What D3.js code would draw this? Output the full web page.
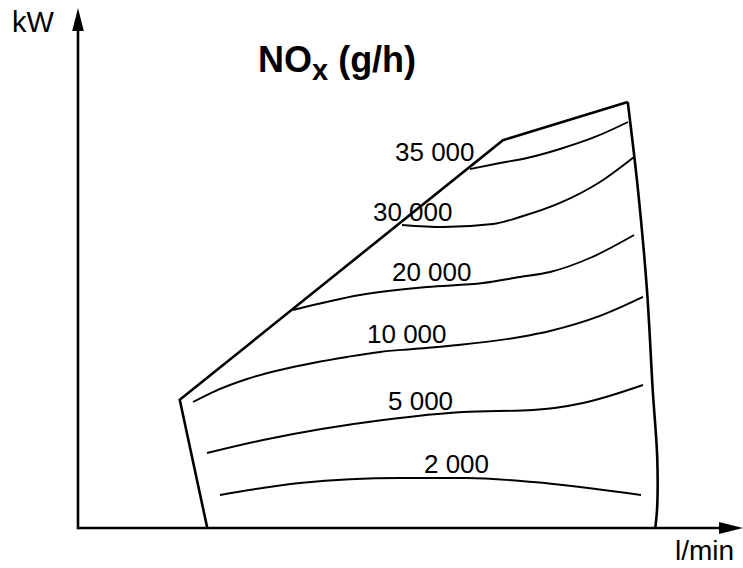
<!DOCTYPE html>
<html>
<head>
<meta charset="utf-8">
<script src="https://cdn.jsdelivr.net/npm/d3@7"></script>
<style>
  html, body { margin: 0; padding: 0; background: #fff; }
  svg { display: block; }
  text { font-family: "Liberation Sans", Arial, Helvetica, sans-serif; fill: #000; }
</style>
</head>
<body>
<svg id="chart" width="743" height="568"></svg>
<script>
// Engine map: NOx emission (g/h) over flow (l/min) and power (kW), relative units 0–100.

// Operating envelope: left/top edges (straight) and the curved full-load edge on the right
const envelopeFlow  = [20.2, 15.9, 66.4, 85.9];
const envelopePower = [0, 26.7, 80.8, 88.75];
const rightEdgeFlow  = [85.9, 87.5, 88.9, 89.8, 90.5, 90.5, 90.2];
const rightEdgePower = [88.75, 70.4, 49.6, 28.75, 14.8, 4.4, 0];

// Iso-NOx lines
const levels = ["35 000", "30 000", "20 000", "10 000", "5 000", "2 000"];
const isoFlow = [
  [61.25, 65.94, 70.16, 75.31, 80.78, 85.94],
  [50.63, 57.03, 64.84, 69.06, 75.31, 81.56, 86.88],
  [33.59, 44.06, 54.53, 63.28, 69.06, 73.75, 80.0, 86.88],
  [17.97, 21.09, 26.41, 31.56, 36.72, 42.03, 47.19, 52.34, 59.38, 69.06, 73.75, 81.56, 88.28],
  [20.16, 28.91, 47.66, 60.16, 71.09, 78.91, 88.28],
  [22.19, 34.69, 50.31, 60.78, 71.09, 87.97]
];
const isoPower = [
  [74.79, 76.04, 77.08, 78.96, 81.46, 84.58],
  [63.13, 62.71, 63.33, 64.79, 67.71, 72.08, 77.29],
  [45.42, 48.54, 50.21, 51.04, 52.29, 53.33, 56.25, 61.04],
  [26.25, 28.33, 31.04, 32.92, 34.38, 35.63, 36.67, 37.29, 38.13, 39.79, 41.04, 44.17, 48.13],
  [15.63, 18.33, 22.5, 24.17, 24.58, 26.04, 29.79],
  [6.88, 9.38, 10.42, 10.42, 9.58, 6.88]
];
// Label anchors (start of text, baseline)
const labelFlow  = [49.53, 46.09, 49.06, 45.16, 48.44, 54.06];
const labelPower = [76.46, 63.96, 51.46, 38.54, 24.58, 11.46];

const axisTitleY = "kW";
const axisTitleX = "l/min";

const svg = d3.select("#chart");

const x = d3.scaleLinear().domain([0, 100]).range([78, 718]);
const y = d3.scaleLinear().domain([0, 100]).range([528, 48]);

const zip = (xs, ys) => xs.map((v, i) => [v, ys[i]]);

// Axes with arrowheads
const axisG = svg.append("g");
axisG.append("line")
  .attr("x1", x(0)).attr("y1", y(0))
  .attr("x2", x(100) + 2).attr("y2", y(0))
  .attr("stroke", "#000").attr("stroke-width", 2.6);
axisG.append("line")
  .attr("x1", x(0)).attr("y1", y(0) + 1.3)
  .attr("x2", x(0)).attr("y2", 30)
  .attr("stroke", "#000").attr("stroke-width", 2.6);
axisG.append("path")
  .attr("d", `M${x(0)},8 L${x(0) - 5.8},31 L${x(0) + 5.8},31 Z`)
  .attr("fill", "#000");
axisG.append("path")
  .attr("d", `M743,${y(0)} L719,${y(0) - 6} L719,${y(0) + 6} Z`)
  .attr("fill", "#000");

svg.append("text")
  .attr("x", 12).attr("y", 32)
  .attr("font-size", 29)
  .text(axisTitleY);
svg.append("text")
  .attr("x", 675).attr("y", 560)
  .attr("font-size", 28)
  .text(axisTitleX);

// Title
const title = svg.append("text")
  .attr("x", 258).attr("y", 72)
  .attr("font-size", 36)
  .attr("font-weight", "bold");
title.append("tspan").text("NO");
title.append("tspan").attr("font-size", 29).attr("dy", 8).text("x");
title.append("tspan").attr("dy", -8).text(" (g/h)");

// Envelope
const straight = d3.line().x(d => x(d[0])).y(d => y(d[1]));
svg.append("path")
  .attr("d", straight(zip(envelopeFlow, envelopePower)))
  .attr("fill", "none").attr("stroke", "#000")
  .attr("stroke-width", 2.6).attr("stroke-linejoin", "miter");
const curved = d3.line().x(d => x(d[0])).y(d => y(d[1])).curve(d3.curveCatmullRom.alpha(0.5));
svg.append("path")
  .attr("d", curved(zip(rightEdgeFlow, rightEdgePower)))
  .attr("fill", "none").attr("stroke", "#000")
  .attr("stroke-width", 2.6);

// Iso-lines and their labels
const iso = d3.line().x(d => x(d[0])).y(d => y(d[1])).curve(d3.curveMonotoneX);
const isoG = svg.append("g");
levels.forEach((lv, i) => {
  isoG.append("path")
    .attr("d", iso(zip(isoFlow[i], isoPower[i])))
    .attr("fill", "none").attr("stroke", "#000")
    .attr("stroke-width", 1.9);
  isoG.append("text")
    .attr("x", x(labelFlow[i])).attr("y", y(labelPower[i]))
    .attr("font-size", 26)
    .text(lv);
});
</script>
</body>
</html>
